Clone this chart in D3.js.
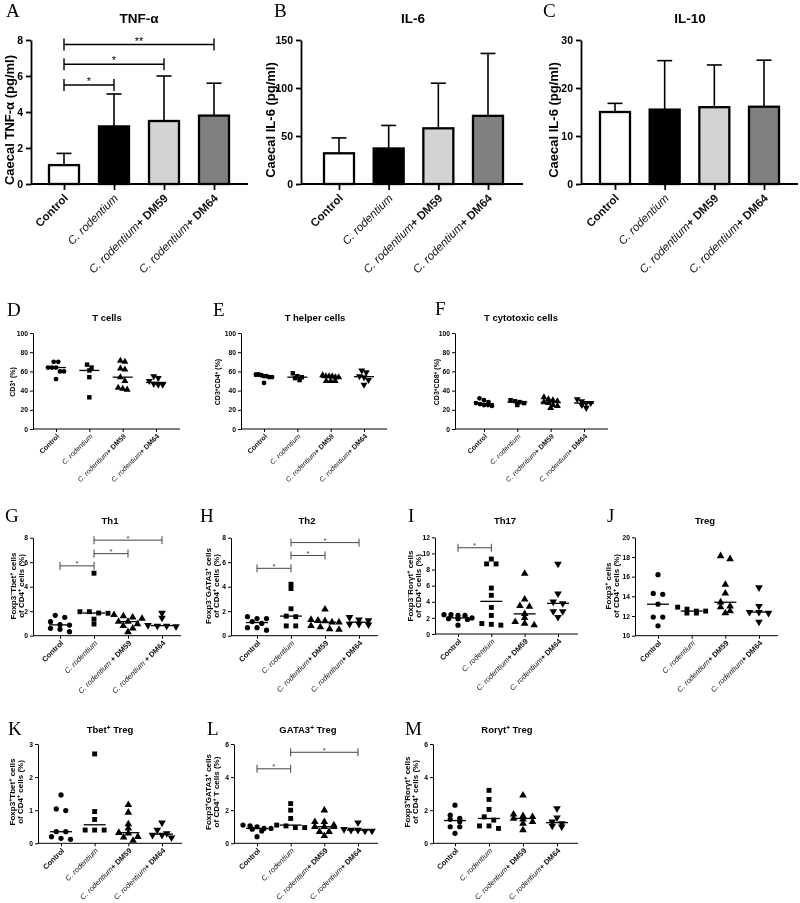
<!DOCTYPE html>
<html><head><meta charset="utf-8">
<script src="https://cdn.jsdelivr.net/npm/d3@7"></script>
<style>
body{margin:0;background:#fff}
svg{display:block;will-change:transform}
</style>
</head><body>
<svg id="fig" width="800" height="903"></svg>
<script>
// ---------------- DATA ----------------
const groups  = ["Control", "C. rodentium", "C. rodentium+ DM59", "C. rodentium+ DM64"];
const groupsG = ["Control", "C. rodentium", "C. rodentium + DM59", "C. rodentium + DM64"];
const barFills = ["#ffffff", "#000000", "#d3d3d3", "#808080"];

// Bar panels: mean and SD (upper error bar)
const tnfMean  = [1.05, 3.2, 3.5, 3.8];
const tnfSD    = [0.65, 1.8, 2.5, 1.8];
const tnfTicks = [0, 2, 4, 6, 8];
const tnfSig   = [[0, 1, 5.5, "*"], [0, 2, 6.65, "*"], [0, 3, 7.75, "**"]];

const il6Mean  = [32, 37, 58, 71];
const il6SD    = [16, 24, 47, 65];
const il6Ticks = [0, 50, 100, 150];

const il10Mean  = [15, 15.5, 16, 16.1];
const il10SD    = [1.8, 10.2, 8.8, 9.7];
const il10Ticks = [0, 10, 20, 30];

// Scatter panels: individual values per group
const tCells = [[70, 70, 64, 64, 64, 60, 60, 52], [67, 64, 61, 54, 33], [71, 70, 63, 62, 54, 50, 43, 42, 41], [55, 53, 50, 47, 46, 46]];
const tHelper = [[57, 57, 56, 55, 55, 54, 54, 48], [58, 55, 54, 53, 51], [56, 55, 55, 55, 54, 54, 50, 50, 50], [61, 59, 55, 54, 51, 46]];
const tCyto = [[32, 30, 28, 27, 26, 25, 25, 24], [30, 29, 28, 27, 25], [33, 31, 30, 29, 28, 27, 25, 24, 22], [31, 29, 27, 27, 25, 22]];
const pctTicks = [0, 20, 40, 60, 80, 100];

const th1 = [[1.66, 1.5, 1.14, 0.9, 0.87, 0.6, 0.52, 0.33], [5.1, 1.96, 1.96, 1.85, 1.83, 1.35, 0.95], [1.7, 1.6, 1.5, 1.4, 1.15, 1.15, 0.95, 0.8, 0.6, 0.3], [1.85, 1.45, 0.85, 0.8, 0.8, 0.75]];
const th1Sig = [[0, 1, 5.7, "*"], [1, 2, 6.7, "*"], [1, 3, 7.8, "*"]];
const th2 = [[1.55, 1.4, 1.4, 1.15, 1.0, 0.65, 0.65, 0.45], [4.2, 3.85, 2.2, 1.6, 1.55, 0.8, 0.8], [2.15, 1.3, 1.25, 1.2, 1.1, 1.1, 0.8, 0.7, 0.55, 0.5], [1.5, 1.3, 1.25, 0.95, 0.95, 0.9]];
const th2Sig = [[0, 1, 5.5, "*"], [1, 2, 6.55, "*"], [1, 3, 7.6, "*"]];
const th8Ticks = [0, 2, 4, 6, 8];
const th17 = [[2.4, 2.4, 2.3, 2.3, 2.0, 1.9, 1.9, 1.8, 1.1], [9.3, 8.7, 8.7, 5.7, 4.8, 3.3, 2.3, 1.3, 1.2, 1.1], [7.5, 4.3, 3.5, 3.4, 2.5, 2.0, 1.5, 1.3, 1.1], [8.7, 5.0, 4.0, 3.8, 2.8, 2.8, 2.1]];
const th17Sig = [[0, 1, 10.7, "*"]];
const th17Ticks = [0, 2, 4, 6, 8, 10, 12];
const treg = [[16.2, 14.3, 14.2, 13.2, 11.9, 11.9, 11.0], [12.9, 12.7, 12.5, 12.5, 12.3, 12.3], [18.1, 17.8, 15.2, 14.3, 13.4, 13.0, 12.9, 12.5, 12.3], [14.9, 13.0, 12.4, 12.4, 12.3, 11.4]];
const tregTicks = [10, 12, 14, 16, 18, 20];

const tbetTreg = [[1.46, 1.04, 0.99, 0.35, 0.35, 0.2, 0.15, 0.12], [2.7, 0.96, 0.72, 0.4, 0.4, 0.4], [1.16, 0.93, 0.58, 0.45, 0.32, 0.3, 0.2, 0.18, 0.08], [0.62, 0.4, 0.3, 0.25, 0.25, 0.17]];
const tbetTicks = [0, 1, 2, 3];
const gata3Treg = [[1.1, 1.05, 1.0, 0.9, 0.9, 0.85, 0.75, 0.4], [2.4, 2.0, 1.5, 1.1, 1.05, 0.95, 0.95], [2.0, 1.3, 1.3, 1.1, 1.0, 1.0, 1.0, 0.7, 0.7, 0.45], [1.25, 0.85, 0.8, 0.8, 0.75, 0.75]];
const gata3Sig = [[0, 1, 4.5, "*"], [1, 3, 5.5, "*"]];
const rorTreg = [[2.3, 1.7, 1.5, 1.45, 1.3, 1.0, 1.0, 0.6], [3.2, 2.65, 2.05, 1.6, 1.4, 1.05, 1.05, 0.9], [2.9, 1.75, 1.65, 1.6, 1.5, 1.45, 1.3, 1.2, 0.8], [2.1, 1.55, 1.3, 1.2, 1.05, 1.0]];
const six6Ticks = [0, 2, 4, 6];

// ---------------- HELPERS ----------------
const SANS = '"Liberation Sans", Arial, sans-serif';
const SERIF = '"Liberation Serif", "Times New Roman", serif';
const svg = d3.select("#fig").attr("font-family", SANS);
const intFmt = d3.format("d");

function rich(textSel, str) {
  const re = /<(b|i|sup)>(.*?)<\/\1>/g;
  let last = 0, m;
  const parts = [];
  while ((m = re.exec(str))) {
    if (m.index > last) parts.push({t: str.slice(last, m.index)});
    parts.push({t: m[2], tag: m[1]});
    last = re.lastIndex;
  }
  if (last < str.length) parts.push({t: str.slice(last)});
  parts.forEach(p => {
    const ts = textSel.append("tspan").text(p.t);
    if (p.tag === "b") ts.attr("font-weight", "bold");
    if (p.tag === "i") ts.attr("font-style", "italic").attr("font-weight", "normal");
    if (p.tag === "sup") ts.attr("baseline-shift", "super").attr("font-size", "68%");
  });
  return textSel;
}
function catMarkup(c) {
  if (c === "Control") return "<b>Control</b>";
  const m = c.match(/^(C\. rodentium)(.*)$/);
  return "<i>" + m[1] + "</i>" + (m[2] ? "<b>" + m[2] + "</b>" : "");
}
function letter(x, y, s) {
  svg.append("text").attr("x", x).attr("y", y).attr("font-family", SERIF)
    .attr("font-size", 19).attr("fill", "#000").text(s);
}
function title(x, y, s, size) {
  rich(svg.append("text").attr("x", x).attr("y", y).attr("text-anchor", "middle")
    .attr("font-weight", "bold").attr("font-size", size), s);
}
function yLabel(x, y, s, size) {
  rich(svg.append("text").attr("transform", `translate(${x},${y}) rotate(-90)`).attr("dy", "0.35em")
    .attr("text-anchor", "middle").attr("font-weight", "bold").attr("font-size", size), s);
}
function styleAxis(g, sw, fs) {
  g.selectAll("path,line").attr("stroke", "#000").attr("stroke-width", sw);
  g.selectAll("text").attr("font-size", fs).attr("font-weight", "bold").attr("font-family", SANS).attr("fill", "#000");
}
function xLabels(g, x, cats, y0, off, fs) {
  cats.forEach(c => {
    rich(g.append("text").attr("transform", `translate(${x(c) + 2},${y0 + off}) rotate(-45)`)
      .attr("text-anchor", "end").attr("dy", "0.35em").attr("font-size", fs).attr("fill", "#111"), catMarkup(c));
  });
}
function brackets(g, x, y, cats, sig, o) {
  sig.forEach(([a, b, v, s]) => {
    const x1 = x(cats[a]), x2 = x(cats[b]), yy = y(v);
    g.append("line").attr("x1", x1).attr("x2", x2).attr("y1", yy).attr("y2", yy).attr("stroke", o.color).attr("stroke-width", o.sw);
    [x1, x2].forEach(xx => g.append("line").attr("x1", xx).attr("x2", xx).attr("y1", yy - o.h).attr("y2", yy + o.h).attr("stroke", o.color).attr("stroke-width", o.sw));
    g.append("text").attr("x", (x1 + x2) / 2).attr("y", yy + o.dy).attr("text-anchor", "middle")
      .attr("font-size", o.fs).attr("fill", o.color).text(s);
  });
}

// ---------------- BAR PANELS ----------------
function barPanel(c) {
  const g = svg.append("g");
  const y = d3.scaleLinear().domain([0, c.max]).range([c.y0, c.y1]);
  const x = d3.scalePoint().domain(groups).range([c.x0, c.x1]);
  const bw = 30;
  g.selectAll(".err").data(c.mean).join("line")
    .attr("x1", (d, i) => x(groups[i])).attr("x2", (d, i) => x(groups[i]))
    .attr("y1", d => y(d)).attr("y2", (d, i) => y(d + c.sd[i]))
    .attr("stroke", "#000").attr("stroke-width", 1.6);
  g.selectAll(".cap").data(c.mean).join("line")
    .attr("x1", (d, i) => x(groups[i]) - 7.5).attr("x2", (d, i) => x(groups[i]) + 7.5)
    .attr("y1", (d, i) => y(d + c.sd[i])).attr("y2", (d, i) => y(d + c.sd[i]))
    .attr("stroke", "#000").attr("stroke-width", 1.6);
  g.selectAll(".bar").data(c.mean).join("rect")
    .attr("x", (d, i) => x(groups[i]) - bw / 2).attr("width", bw)
    .attr("y", d => y(d)).attr("height", d => y(0) - y(d))
    .attr("fill", (d, i) => barFills[i]).attr("stroke", "#000").attr("stroke-width", 2.3);
  const ya = g.append("g").attr("transform", `translate(${c.ax},0)`)
    .call(d3.axisLeft(y).tickValues(c.ticks).tickFormat(intFmt).tickSize(5).tickSizeOuter(0).tickPadding(3));
  styleAxis(ya, 1.8, 10.5);
  const xa = g.append("g").attr("transform", `translate(0,${c.y0})`)
    .call(d3.axisBottom(x).tickSize(6).tickFormat(""));
  xa.select(".domain").remove();
  styleAxis(xa, 1.8, 10.5);
  g.append("line").attr("x1", c.ax).attr("x2", c.xend).attr("y1", c.y0).attr("y2", c.y0)
    .attr("stroke", "#000").attr("stroke-width", 1.8);
  xLabels(g, x, groups, c.y0, 12, 11.5);
  if (c.sig) brackets(g, x, y, groups, c.sig, {color: "#000", sw: 1.4, h: 6, dy: 0, fs: 11});
}

barPanel({mean: tnfMean, sd: tnfSD, max: 8, ticks: tnfTicks, sig: tnfSig, ax: 31, y0: 184, y1: 40, x0: 64, x1: 214, xend: 248});
barPanel({mean: il6Mean, sd: il6SD, max: 150, ticks: il6Ticks, ax: 301, y0: 184, y1: 40, x0: 339, x1: 488, xend: 523});
barPanel({mean: il10Mean, sd: il10SD, max: 30, ticks: il10Ticks, ax: 581, y0: 184, y1: 40, x0: 615, x1: 764, xend: 798});
letter(6, 16.5, "A"); letter(274, 16.5, "B"); letter(543, 16.5, "C");
title(139, 22.5, "TNF-α", 13.5); title(413, 22.5, "IL-6", 13.5); title(690, 22.5, "IL-10", 13.5);
yLabel(9, 120, "Caecal TNF-α (pg/ml)", 13);
yLabel(270, 120, "Caecal IL-6 (pg/ml)", 13);
yLabel(553, 120, "Caecal IL-6 (pg/ml)", 13);

// ---------------- SCATTER PANELS ----------------
const symbols = [d3.symbolCircle, d3.symbolSquare, d3.symbolTriangle, d3.symbolTriangle];
function layoutRows(vals, y, binH, sp, maxW) {
  const pts = vals.map(v => ({v, py: y(v)})).sort((a, b) => a.py - b.py);
  const rows = [];
  pts.forEach(p => {
    const r = rows[rows.length - 1];
    if (r && Math.abs(p.py - r[0].py) < binH) r.push(p); else rows.push([p]);
  });
  rows.forEach(r => {
    const n = r.length;
    const s = n > 1 ? Math.min(sp, maxW / (n - 1)) : 0;
    r.forEach((p, i) => p.dx = (i - (n - 1) / 2) * s);
  });
  return pts;
}
function scatterPanel(c) {
  const g = svg.append("g");
  const cats = c.cats || groups;
  const y = d3.scaleLinear().domain(c.domain).range([c.y0, c.y1]);
  const x = d3.scalePoint().domain(cats).range([c.x0, c.x1]);
  const ya = g.append("g").attr("transform", `translate(${c.ax},0)`)
    .call(d3.axisLeft(y).tickValues(c.ticks).tickFormat(intFmt).tickSize(3).tickSizeOuter(0).tickPadding(2));
  styleAxis(ya, 1, c.tfs);
  const xa = g.append("g").attr("transform", `translate(0,${c.y0})`)
    .call(d3.axisBottom(x).tickSize(3).tickFormat(""));
  xa.select(".domain").remove();
  styleAxis(xa, 1, c.tfs);
  g.append("line").attr("x1", c.ax).attr("x2", c.xend).attr("y1", c.y0).attr("y2", c.y0)
    .attr("stroke", "#000").attr("stroke-width", 1);
  c.data.forEach((vals, gi) => {
    const cx = x(cats[gi]);
    const pts = layoutRows(vals, y, c.binH, c.sp, c.maxW);
    const sym = d3.symbol().type(symbols[gi]).size(gi === 0 ? c.ms * 0.9 : gi === 1 ? c.ms : c.ms * 1.05);
    g.selectAll(null).data(pts).join("path").attr("d", sym)
      .attr("transform", d => `translate(${cx + d.dx},${d.py})` + (gi === 3 ? " rotate(180)" : ""))
      .attr("fill", "#000");
    const med = d3.median(vals);
    g.append("line").attr("x1", cx - c.mw / 2).attr("x2", cx + c.mw / 2)
      .attr("y1", y(med)).attr("y2", y(med)).attr("stroke", "#000").attr("stroke-width", 1.3);
  });
  xLabels(g, x, cats, c.y0, c.lo, c.xfs);
  if (c.sig) brackets(g, x, y, cats, c.sig, {color: "#444", sw: 1, h: 4, dy: 0.5, fs: 8});
}

// Row 2
const r2 = {domain: [0, 100], ticks: pctTicks, y0: 429, y1: 333, tfs: 6.7, xfs: 7, lo: 6, binH: 4, sp: 4.5, maxW: 16, ms: 20, mw: 20};
scatterPanel(Object.assign({}, r2, {data: tCells, ax: 33, x0: 56, x1: 156, xend: 180}));
scatterPanel(Object.assign({}, r2, {data: tHelper, ax: 241, x0: 264, x1: 364, xend: 387}));
scatterPanel(Object.assign({}, r2, {data: tCyto, ax: 455, x0: 484, x1: 584, xend: 608}));
letter(7, 316, "D"); letter(213, 316, "E"); letter(435, 315, "F");
title(107, 321, "T cells", 9.5); title(315, 321, "T helper cells", 9.5); title(521, 321, "T cytotoxic cells", 9.5);
yLabel(12.5, 382, "CD3<sup>+</sup> (%)", 7);
yLabel(218, 382, "CD3<sup>+</sup>CD4<sup>+</sup> (%)", 7);
yLabel(437, 382, "CD3<sup>+</sup>CD8<sup>+</sup> (%)", 7);

// Row 3
const r3 = {tfs: 6.7, xfs: 7.5, lo: 6, binH: 4, sp: 9.5, maxW: 28, ms: 24, mw: 22};
scatterPanel(Object.assign({}, r3, {data: th1, cats: groupsG, sig: th1Sig, domain: [0, 8], ticks: th8Ticks, y0: 635.7, y1: 537.7, ax: 33, x0: 60, x1: 162, xend: 181}));
scatterPanel(Object.assign({}, r3, {data: th2, sig: th2Sig, domain: [0, 8], ticks: th8Ticks, y0: 635.7, y1: 537.7, ax: 231, x0: 257, x1: 359, xend: 378}));
scatterPanel(Object.assign({}, r3, {data: th17, sig: th17Sig, domain: [0, 12], ticks: th17Ticks, y0: 634, y1: 537.3, ax: 435, x0: 458, x1: 558, xend: 578}));
scatterPanel(Object.assign({}, r3, {data: treg, domain: [10, 20], ticks: tregTicks, y0: 635.7, y1: 537.3, ax: 635, x0: 658, x1: 759, xend: 778}));
letter(5, 522, "G"); letter(200, 522, "H"); letter(408, 522, "I"); letter(607, 522, "J");
title(110, 524, "Th1", 9.5); title(307, 524, "Th2", 9.5); title(505, 524, "Th17", 9.5); title(705, 524, "Treg", 9.5);
yLabel(13, 586, "Foxp3<sup>−</sup>Tbet<sup>+</sup> cells", 8); yLabel(21.5, 586, "of CD4<sup>+</sup> cells (%)", 8);
yLabel(208, 586, "Foxp3<sup>−</sup>GATA3<sup>+</sup> cells", 8); yLabel(216.5, 586, "of CD4<sup>+</sup> cells (%)", 8);
yLabel(410, 586, "Foxp3<sup>−</sup>Rorγt<sup>+</sup> cells", 8); yLabel(418.5, 586, "of CD4<sup>+</sup> cells (%)", 8);
yLabel(608, 586, "Foxp3<sup>+</sup> cells", 8); yLabel(616.5, 586, "of CD4<sup>+</sup> cells (%)", 8);

// Row 4
const r4 = {tfs: 6.7, xfs: 7.5, lo: 6, binH: 4, sp: 9.5, maxW: 28, ms: 24, mw: 22, y0: 843.3, y1: 744};
scatterPanel(Object.assign({}, r4, {data: tbetTreg, domain: [0, 3], ticks: tbetTicks, ax: 38, x0: 61, x1: 162, xend: 182}));
scatterPanel(Object.assign({}, r4, {data: gata3Treg, sig: gata3Sig, domain: [0, 6], ticks: six6Ticks, ax: 234, x0: 257, x1: 358, xend: 378}));
scatterPanel(Object.assign({}, r4, {data: rorTreg, domain: [0, 6], ticks: six6Ticks, ax: 433, x0: 455, x1: 557, xend: 578}));
letter(8, 735, "K"); letter(207, 735, "L"); letter(405, 735, "M");
title(110, 733, "Tbet<sup>+</sup> Treg", 9.5); title(308, 733, "GATA3<sup>+</sup> Treg", 9.5); title(507, 733, "Rorγt<sup>+</sup> Treg", 9.5);
yLabel(12, 792, "Foxp3<sup>+</sup>Tbet<sup>+</sup> cells", 8); yLabel(20.5, 792, "of CD4<sup>+</sup> cells (%)", 8);
yLabel(208, 792, "Foxp3<sup>+</sup>GATA3<sup>+</sup> cells", 8); yLabel(216.5, 792, "of CD4<sup>+</sup> T cells (%)", 8);
yLabel(407, 792, "Foxp3<sup>+</sup>Rorγt<sup>+</sup> cells", 8); yLabel(415.5, 792, "of CD4<sup>+</sup> cells (%)", 8);
</script>
</body></html>
